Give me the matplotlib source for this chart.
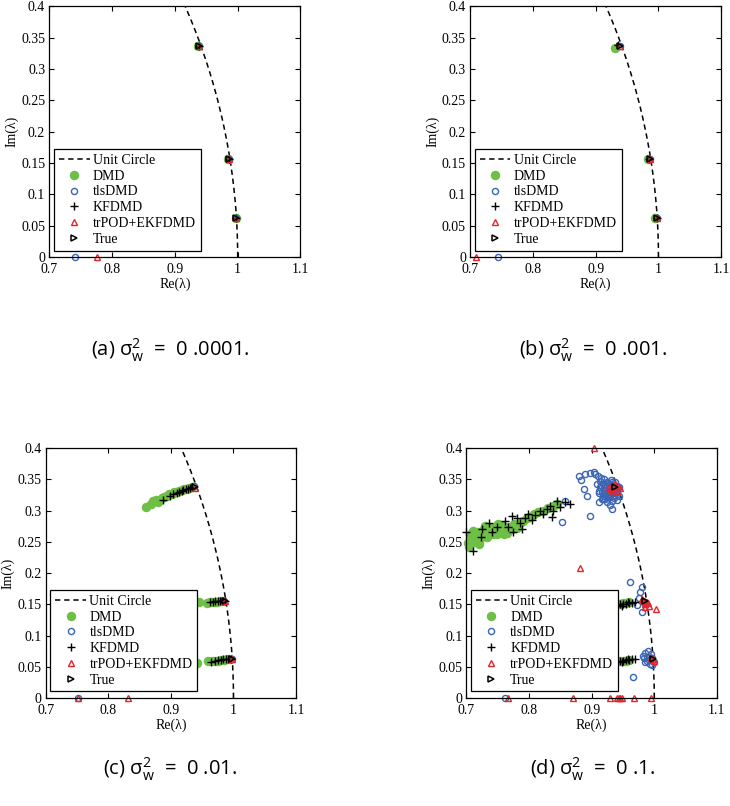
import matplotlib
matplotlib.use("Agg")
import matplotlib.pyplot as plt
import numpy as np

plt.rcParams["font.family"] = ["Liberation Serif", "DejaVu Serif"]
plt.rcParams["mathtext.default"] = "regular"

# eigenvalues (Re, Im)
true_re = [0.938, 0.986, 0.998]
true_im = [0.337, 0.156, 0.062]

# (a) sigma_w^2 = 0.0001
a_dmd_re = [0.937, 0.985, 0.997]
a_dmd_im = [0.337, 0.156, 0.062]
a_tls_re = [0.938, 0.986, 0.998, 0.741]
a_tls_im = [0.337, 0.156, 0.062, 0.0]
a_kf_re = [0.938, 0.986, 0.998]
a_kf_im = [0.337, 0.156, 0.062]
a_tr_re = [0.938, 0.986, 0.998, 0.776]
a_tr_im = [0.337, 0.156, 0.062, 0.0]

# (b) sigma_w^2 = 0.001
b_dmd_re = [0.930, 0.983, 0.994]
b_dmd_im = [0.334, 0.156, 0.062]
b_tls_re = [0.938, 0.986, 0.998, 0.745]
b_tls_im = [0.337, 0.156, 0.062, 0.0]
b_kf_re = [0.936, 0.985, 0.997]
b_kf_im = [0.338, 0.156, 0.063]
b_tr_re = [0.938, 0.986, 0.998, 0.710]
b_tr_im = [0.337, 0.156, 0.062, 0.0]

# (c) sigma_w^2 = 0.01
c_dmd_re = [0.860, 0.868, 0.872, 0.877, 0.880, 0.885, 0.889, 0.893, 0.897, 0.901,
            0.905, 0.909, 0.913, 0.917, 0.921, 0.925, 0.929, 0.933,
            0.945, 0.958, 0.962, 0.966, 0.970, 0.974, 0.978, 0.982,
            0.942, 0.960, 0.965, 0.970, 0.975, 0.980, 0.985, 0.990, 0.995]
c_dmd_im = [0.306, 0.311, 0.315, 0.317, 0.314, 0.320, 0.322, 0.324, 0.326, 0.327,
            0.329, 0.330, 0.332, 0.333, 0.334, 0.335, 0.336, 0.337,
            0.153, 0.152, 0.153, 0.153, 0.154, 0.154, 0.155, 0.155,
            0.056, 0.059, 0.059, 0.060, 0.060, 0.061, 0.061, 0.062, 0.062]
c_tls_re = [0.937, 0.985, 0.998, 0.751]
c_tls_im = [0.339, 0.156, 0.062, 0.0]
c_kf_re = [0.887, 0.899, 0.904, 0.909, 0.913, 0.917, 0.920, 0.924, 0.928, 0.931, 0.934,
           0.962, 0.967, 0.971, 0.975, 0.979, 0.983, 0.986,
           0.964, 0.970, 0.975, 0.980, 0.984, 0.988, 0.992, 0.996]
c_kf_im = [0.317, 0.323, 0.326, 0.328, 0.330, 0.331, 0.333, 0.334, 0.335, 0.336, 0.337,
           0.154, 0.154, 0.155, 0.155, 0.155, 0.156, 0.156,
           0.058, 0.060, 0.061, 0.061, 0.062, 0.062, 0.063, 0.063]
c_tr_re = [0.938, 0.986, 0.998, 0.751, 0.832]
c_tr_im = [0.336, 0.155, 0.062, 0.0, 0.0]

# (d) sigma_w^2 = 0.1
d_dmd_re = [0.703, 0.705, 0.708, 0.712, 0.715, 0.718, 0.722, 0.725, 0.728, 0.732,
            0.735, 0.738, 0.742, 0.745, 0.748, 0.752, 0.755, 0.758, 0.762, 0.765,
            0.768, 0.772, 0.776, 0.780, 0.785, 0.790, 0.796, 0.802, 0.808, 0.815,
            0.822, 0.830, 0.838, 0.845, 0.704, 0.720, 0.710, 0.730, 0.750, 0.760,
            0.900, 0.915, 0.930, 0.940, 0.945, 0.950, 0.955, 0.960,
            0.900, 0.915, 0.930, 0.940, 0.945, 0.950, 0.955, 0.960]
d_dmd_im = [0.248, 0.256, 0.262, 0.250, 0.258, 0.266, 0.254, 0.262, 0.270, 0.258,
            0.266, 0.274, 0.262, 0.270, 0.262, 0.272, 0.266, 0.276, 0.270, 0.264,
            0.274, 0.270, 0.278, 0.272, 0.280, 0.284, 0.288, 0.290, 0.294, 0.297,
            0.300, 0.304, 0.307, 0.310, 0.242, 0.246, 0.268, 0.275, 0.278, 0.262,
            0.146, 0.148, 0.149, 0.150, 0.151, 0.152, 0.152, 0.153,
            0.056, 0.057, 0.058, 0.059, 0.059, 0.060, 0.060, 0.061]
d_tls_re = [0.913, 0.919, 0.924, 0.929, 0.935, 0.937, 0.940, 0.935, 0.929, 0.924,
            0.919, 0.916, 0.921, 0.927, 0.932, 0.927, 0.921, 0.911, 0.943, 0.916,
            0.932, 0.924, 0.937, 0.913, 0.908, 0.943, 0.926, 0.930, 0.918, 0.935,
            0.915, 0.920, 0.925, 0.930, 0.935, 0.940, 0.918, 0.923, 0.928, 0.933,
            0.938, 0.920, 0.926, 0.931, 0.912, 0.941, 0.922, 0.929,
            0.879, 0.883, 0.889, 0.897, 0.903, 0.906, 0.887, 0.892, 0.911, 0.897,
            0.852, 0.857, 0.932, 0.940, 0.910, 0.915,
            0.962, 0.980, 0.977, 0.982, 0.985, 0.980, 0.973, 0.976,
            0.982, 0.986, 0.990, 0.994, 0.997, 0.999, 0.988, 0.993, 0.996, 0.984,
            0.989, 0.992, 0.986, 0.966,
            0.761]
d_tls_im = [0.338, 0.343, 0.346, 0.343, 0.340, 0.335, 0.330, 0.324, 0.322, 0.322,
            0.324, 0.330, 0.332, 0.335, 0.332, 0.327, 0.338, 0.332, 0.324, 0.319,
            0.316, 0.314, 0.346, 0.348, 0.343, 0.338, 0.330, 0.340, 0.327, 0.320,
            0.341, 0.336, 0.340, 0.337, 0.328, 0.340, 0.318, 0.327, 0.325, 0.345,
            0.333, 0.350, 0.344, 0.349, 0.328, 0.326, 0.318, 0.309,
            0.355, 0.349, 0.358, 0.360, 0.362, 0.358, 0.335, 0.323, 0.314, 0.291,
            0.282, 0.315, 0.303, 0.317, 0.355, 0.352,
            0.185, 0.177, 0.169, 0.156, 0.150, 0.137, 0.149, 0.160,
            0.068, 0.072, 0.075, 0.070, 0.064, 0.058, 0.060, 0.055, 0.053, 0.064,
            0.066, 0.061, 0.057, 0.034,
            0.0]
d_kf_re = [0.700, 0.711, 0.723, 0.725, 0.736, 0.740, 0.748, 0.761, 0.766, 0.772,
           0.780, 0.785, 0.793, 0.799, 0.804, 0.809, 0.817, 0.823, 0.828, 0.833,
           0.838, 0.844, 0.849, 0.857, 0.865, 0.836, 0.788, 0.775,
           0.920, 0.930, 0.940, 0.945, 0.950, 0.955, 0.960, 0.965, 0.970, 0.948, 0.958,
           0.920, 0.930, 0.940, 0.945, 0.950, 0.955, 0.960, 0.965, 0.970, 0.948, 0.958]
d_kf_im = [0.266, 0.236, 0.258, 0.271, 0.280, 0.266, 0.274, 0.284, 0.274, 0.292,
           0.288, 0.280, 0.288, 0.295, 0.285, 0.293, 0.300, 0.295, 0.303, 0.308,
           0.300, 0.316, 0.306, 0.314, 0.311, 0.290, 0.270, 0.265,
           0.147, 0.148, 0.149, 0.150, 0.151, 0.151, 0.152, 0.152, 0.153, 0.147, 0.154,
           0.058, 0.059, 0.059, 0.060, 0.060, 0.061, 0.061, 0.062, 0.062, 0.057, 0.063]
d_tr_re = [0.903, 0.881, 0.930, 0.935, 0.940, 0.945, 0.938, 0.933, 0.942, 0.928,
           0.983, 0.986, 0.990, 0.985, 0.992, 0.980, 1.002, 0.988,
           0.998, 0.994, 1.000,
           0.766, 0.870, 0.930, 0.940, 0.943, 0.945, 0.948, 0.967, 0.994]
d_tr_im = [0.400, 0.208, 0.335, 0.338, 0.332, 0.336, 0.342, 0.330, 0.339, 0.337,
           0.155, 0.150, 0.152, 0.146, 0.147, 0.158, 0.143, 0.153,
           0.062, 0.065, 0.060,
           0.0, 0.0, 0.0, 0.0, 0.0, 0.0, 0.0, 0.0, 0.0]

panels = [
    ("a", "0 .0001.", a_dmd_re, a_dmd_im, a_tls_re, a_tls_im, a_kf_re, a_kf_im, a_tr_re, a_tr_im),
    ("b", "0 .001.", b_dmd_re, b_dmd_im, b_tls_re, b_tls_im, b_kf_re, b_kf_im, b_tr_re, b_tr_im),
    ("c", "0 .01.", c_dmd_re, c_dmd_im, c_tls_re, c_tls_im, c_kf_re, c_kf_im, c_tr_re, c_tr_im),
    ("d", "0 .1.", d_dmd_re, d_dmd_im, d_tls_re, d_tls_im, d_kf_re, d_kf_im, d_tr_re, d_tr_im),
]

# axes rectangles in figure fraction
rects = [
    [0.0676, 0.681, 0.344, 0.311],
    [0.644, 0.681, 0.344, 0.311],
    [0.0626, 0.134, 0.343, 0.310],
    [0.639, 0.134, 0.343, 0.310],
]
caption_pos = [(0.233, 0.566), (0.812, 0.566), (0.233, 0.045), (0.812, 0.045)]

green = "#6dbf45"
blue = "#3a66b5"
red = "#e4262c"

fig = plt.figure(figsize=(7.30, 8.06), dpi=100)

theta = np.linspace(0, np.arcsin(0.4), 200)

for (tag, val, dre, dim, tre, tim, kre, kim, rre, rim), rect, cpos in zip(panels, rects, caption_pos):
    ax = fig.add_axes(rect)
    ax.plot(np.cos(theta), np.sin(theta), "--", color="black", lw=1.1,
            dashes=(3.5, 2.5), label="Unit Circle")
    ax.plot(dre, dim, "o", color=green, ms=5.8, mec=green, ls="none",
            clip_on=False, label="DMD")
    ax.plot(tre, tim, "o", mfc="none", mec=blue, ms=4.4, mew=1.0, ls="none",
            clip_on=False, label="tlsDMD")
    ax.plot(kre, kim, "+", color="black", ms=5.2, mew=1.0, ls="none",
            clip_on=False, label="KFDMD")
    ax.plot(rre, rim, "^", mfc="none", mec=red, ms=5, mew=1.0, ls="none",
            clip_on=False, label="trPOD+EKFDMD")
    ax.plot(true_re, true_im, ">", mfc="none", mec="black", ms=5, mew=1.1, ls="none",
            clip_on=False, label="True")

    ax.set_xlim(0.7, 1.1)
    ax.set_ylim(0, 0.4)
    ax.set_xticks([0.7, 0.8, 0.9, 1.0, 1.1])
    ax.set_xticklabels(["0.7", "0.8", "0.9", "1", "1.1"])
    ax.set_yticks([0, 0.05, 0.1, 0.15, 0.2, 0.25, 0.3, 0.35, 0.4])
    ax.set_yticklabels(["0", "0.05", "0.1", "0.15", "0.2", "0.25", "0.3", "0.35", "0.4"])
    ax.tick_params(direction="in", length=3.5, width=0.8, top=True, right=True,
                   labelsize=10, pad=3)
    ax.tick_params(axis="x", pad=4.5)
    for s in ax.spines.values():
        s.set_linewidth(0.9)
    ax.set_xlabel("Re(λ)", fontsize=10, labelpad=1)
    ax.set_ylabel("Im(λ)", fontsize=10, labelpad=2)

    leg = ax.legend(loc="lower left", bbox_to_anchor=(0.019, 0.026), borderaxespad=0,
                    fontsize=10, fancybox=False, edgecolor="black", framealpha=1,
                    labelspacing=0.2, handlelength=2.2, handletextpad=0.25,
                    borderpad=0.35)
    leg.get_frame().set_linewidth(0.9)
    leg.set_zorder(10)

    fig.text(cpos[0], cpos[1], f"({tag}) σ$_w^2$  =  {val}", ha="center", va="center",
             fontsize=14.5, family=["Open Sans", "DejaVu Sans"])

fig.savefig("out.png", dpi=100)
